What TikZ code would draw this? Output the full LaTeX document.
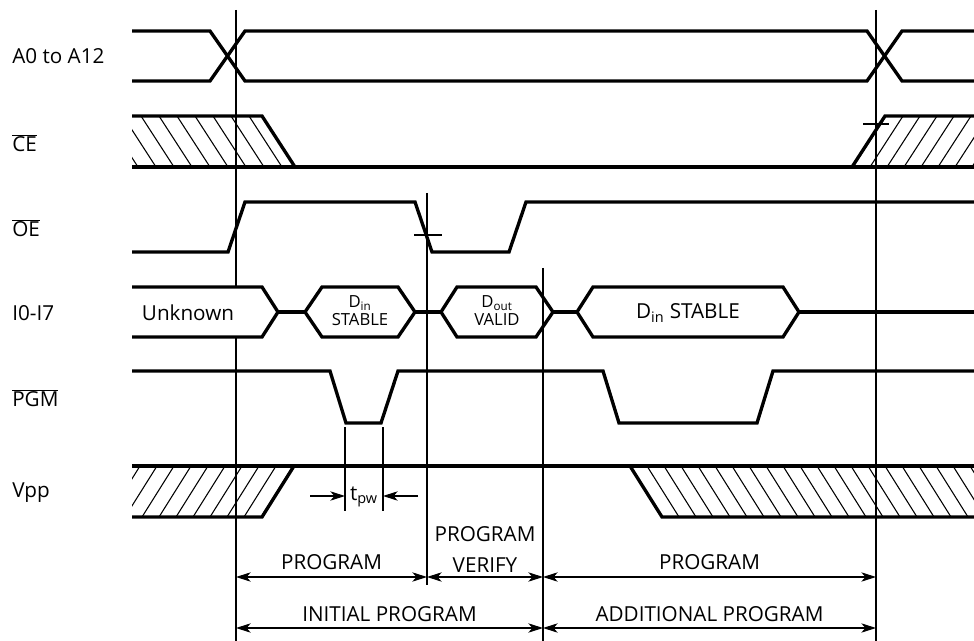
\documentclass[tikz,border=0pt]{standalone}
\usepackage{fontspec}
\setmainfont{Open Sans}
\usetikzlibrary{arrows.meta,positioning}
\tikzset{
    sig/.style={line width=2.5pt},
    tline/.style={line width=1pt},
    hatch/.style={line width=0.8pt},
    dim/.style={line width=0.9pt,<->},
    lbl/.style={anchor=west,inner sep=0pt,font=\fontsize{15.5}{17}\selectfont},
    txt/.style={inner sep=0pt,font=\fontsize{15.5}{17}\selectfont},
    hexlbl/.style={inner sep=0pt,align=center,font=\fontsize{12.5}{13.5}\selectfont},
}
\begin{document}
\begin{tikzpicture}[x=0.75pt,y=-0.75pt,>={Stealth[length=11pt,width=7pt,inset=3pt]}]
        \useasboundingbox (0,0) rectangle (974,641);
        %信号名
        \node[lbl] (nA)   at (12,56)  {A0 to A12};
        \node[lbl] (nCE)  at (12,143) {$\overline{\mbox{CE}}$};
        \node[lbl] (nOE)  at (12,228) {$\overline{\mbox{OE}}$};
        \node[lbl] (nIO)  at (12,313) {I0-I7};
        \node[lbl] (nPGM) at (12,398) {$\overline{\mbox{PGM}}$};
        \node[lbl] (nVpp) at (12,493) {Vpp};
        %地址
        \draw[sig] (132,31)--(210,31)--(245,81)--(867,81)--(902,31)--(974,31);
        \draw[sig] (132,81)--(210,81)--(245,31)--(867,31)--(902,81)--(974,81);
        %CE
        \begin{scope}
            \clip (132,116)--(262,116)--(295,167)--(132,167)--cycle;
            \foreach \x in {87,105,...,267}
                \draw[hatch] (\x,116) -- ++(33,51);
        \end{scope}
        \begin{scope}
            \clip (852,167)--(885,116)--(974,116)--(974,167)--cycle;
            \foreach \x in {853,870,...,974}
                \draw[hatch] (\x,167) -- ++(33,-51);
        \end{scope}
        \draw[sig] (132,116)--(262,116)--(295,167);
        \draw[sig] (132,167)--(974,167);
        \draw[sig] (852,167)--(885,116)--(974,116);
        %OE
        \draw[sig] (132,252)--(228,252)--(245,202)--(415,202)--(432,252)--(509,252)--(526,202)--(974,202);
        %I0-I7
        \draw[sig] (132,287)--(262,287)--(278,312)--(262,337)--(132,337);
        \draw[sig] (278,312)--(305,312);
        \draw[sig] (305,312)--(322,287)--(398,287)--(415,312)--(398,337)--(322,337)--cycle;
        \draw[sig] (415,312)--(441,312);
        \draw[sig] (441,312)--(457,287)--(536,287)--(553,312)--(536,337)--(457,337)--cycle;
        \draw[sig] (553,312)--(577,312);
        \draw[sig] (577,312)--(593,287)--(783,287)--(799,312)--(783,337)--(593,337)--cycle;
        \draw[sig] (799,312)--(974,312);
        \node[txt] (unk) at (188,313) {Unknown};
        \node[hexlbl] (din1) at (360,311) {D\textsubscript{in}\\STABLE};
        \node[hexlbl] (dout) at (497,311) {D\textsubscript{out}\\VALID};
        \node[txt] (din2) at (688,313) {D\textsubscript{in} STABLE};
        %PGM
        \draw[sig] (132,371)--(330,371)--(346,423)--(381,423)--(398,371)--(603,371)--(619,423)--(757,423)--(773,371)--(974,371);
        %Vpp
        \begin{scope}
            \clip (132,466)--(294,466)--(262,517)--(132,517)--cycle;
            \foreach \x in {91,108,...,296}
                \draw[hatch] (\x,517) -- ++(32,-51);
        \end{scope}
        \begin{scope}
            \clip (630,466)--(974,466)--(974,517)--(662,517)--cycle;
            \foreach \x in {613,630,...,990}
                \draw[hatch] (\x,466) -- ++(32,51);
        \end{scope}
        \draw[sig] (132,466)--(974,466);
        \draw[sig] (132,517)--(262,517)--(294,466);
        \draw[sig] (630,466)--(662,517)--(974,517);
        %时间竖线
        \coordinate (t1) at (236,10);
        \coordinate (t2) at (427,193);
        \coordinate (t3) at (543,268);
        \coordinate (t4) at (876,10);
        \coordinate (u1) at (0,287);
        \coordinate (u2) at (0,337);
        \coordinate (r0) at (0,585);
        \coordinate (r1) at (0,577);
        \coordinate (r2) at (0,628);
        \coordinate (bot) at (0,641);
        \draw[tline] (t1) -- (t1 |- u1) (t1 |- u2) -- (t1 |- bot);
        \draw[tline] (t2) -- (t2 |- r0);
        \draw[tline] (t3) -- (t3 |- bot);
        \draw[tline] (t4) -- (t4 |- bot);
        %小横标记
        \draw[tline] (414,235) -- (442,235);
        \draw[tline] (863,124) -- (889,124);
        %tpw
        \coordinate (w1) at (345,427);
        \coordinate (w2) at (383,427);
        \coordinate (w0) at (310,496);
        \coordinate (w3) at (418,496);
        \draw[tline] (w1) -- ++(0,84) (w2) -- ++(0,84);
        \draw[line width=0.9pt,->] (w0) -- (w0 -| w1);
        \draw[line width=0.9pt,->] (w3) -- (w3 -| w2);
        \node[txt] (tpw) at (364,497) {t\textsubscript{pw}};
        %区间箭头
        \draw[dim] (t1 |- r1) -- node[txt,above=5pt] (pA) {PROGRAM} (t2 |- r1);
        \draw[dim] (t2 |- r1) -- node[txt,above=3pt] (pV) {VERIFY} (t3 |- r1);
        \node[txt,above=11pt of pV] (pV2) {PROGRAM};
        \draw[dim] (t3 |- r1) -- node[txt,above=5pt] (pB) {PROGRAM} (t4 |- r1);
        \draw[dim] (t1 |- r2) -- node[txt,above=4.5pt] (pI) {INITIAL PROGRAM} (t3 |- r2);
        \draw[dim] (t3 |- r2) -- node[txt,above=4.5pt] (pD) {ADDITIONAL PROGRAM} (t4 |- r2);
\end{tikzpicture}
\end{document}
